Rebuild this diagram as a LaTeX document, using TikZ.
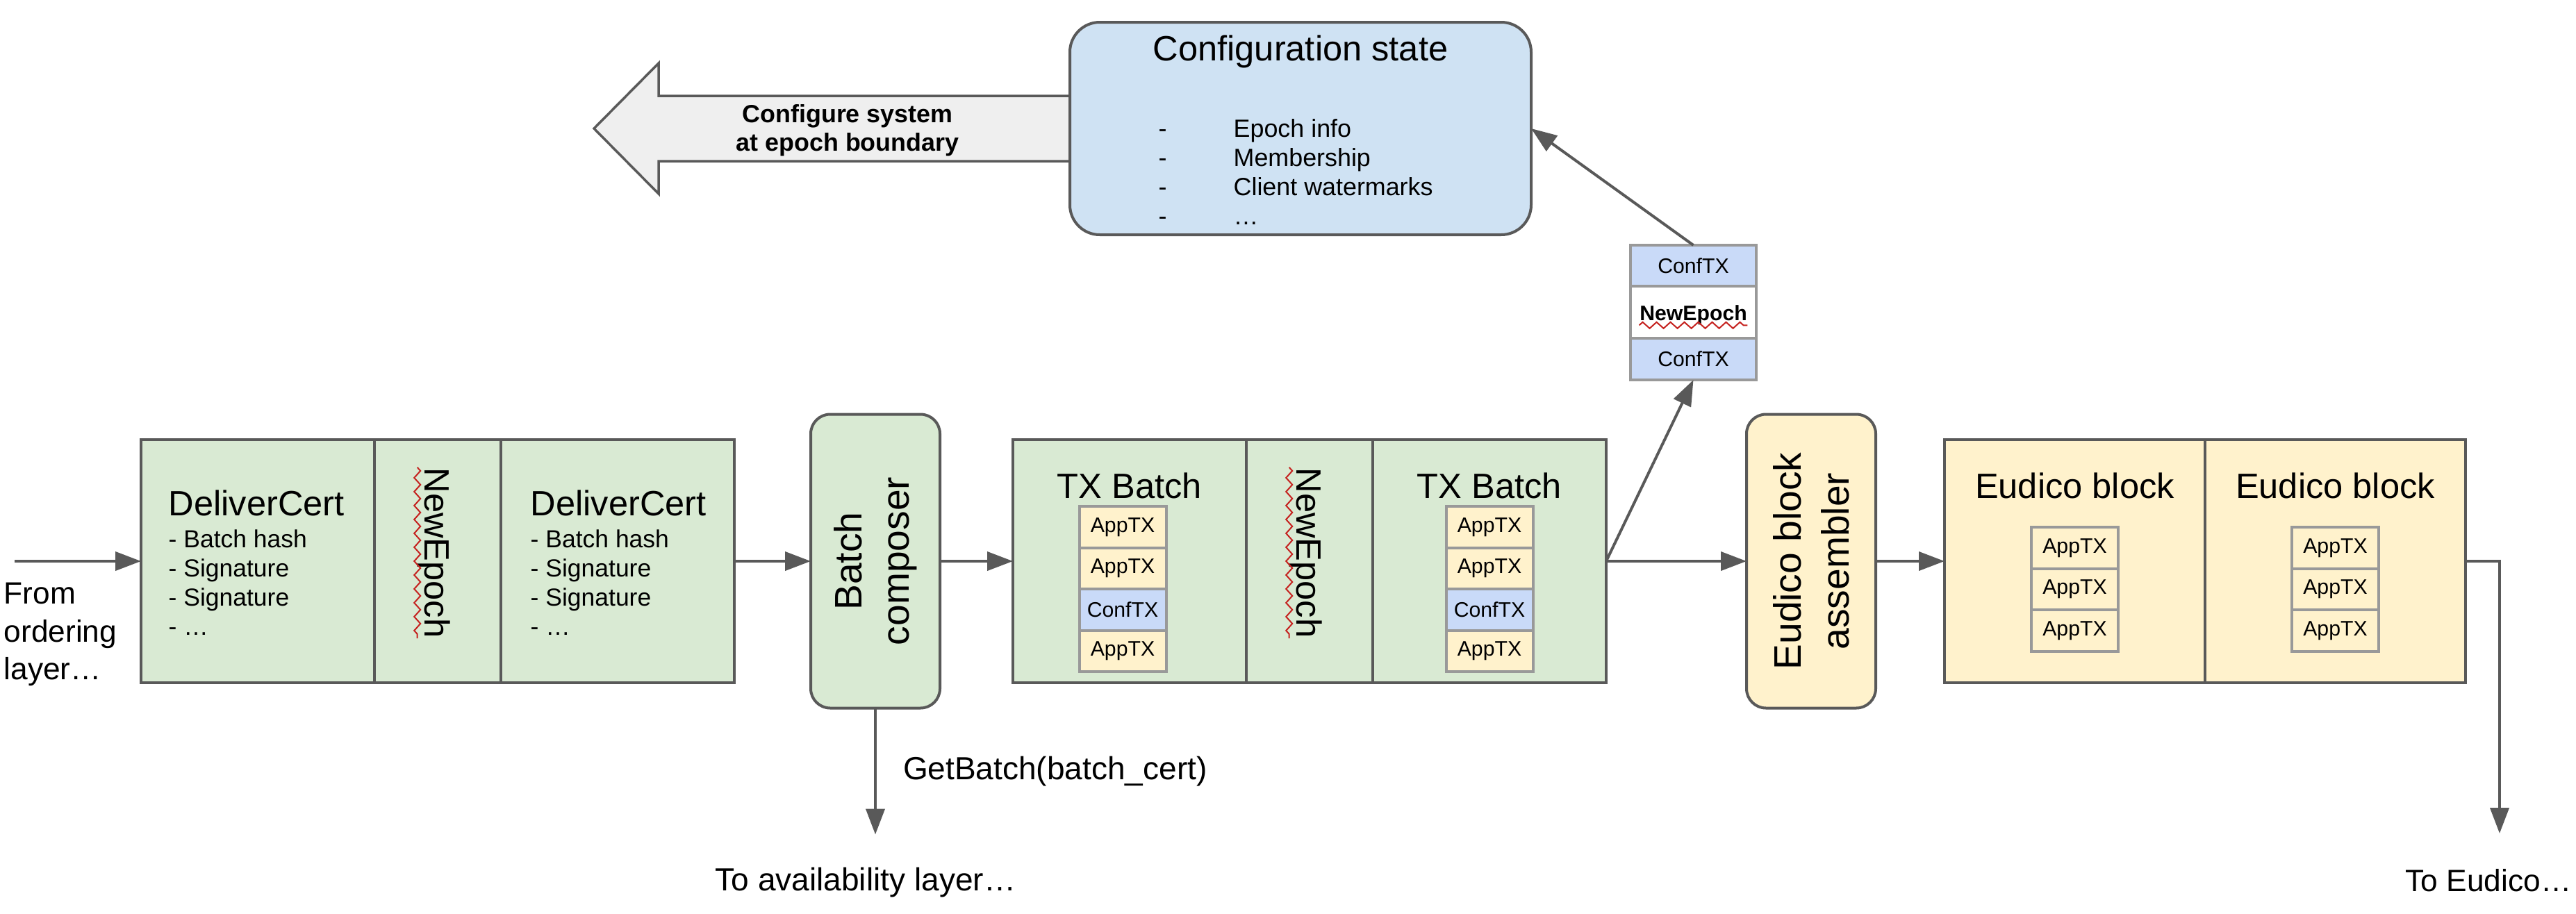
\documentclass[tikz,border=0pt]{standalone}
\usepackage{fontspec}
\setmainfont{Liberation Sans}
\usetikzlibrary{positioning,arrows.meta,decorations.pathmorphing,backgrounds}

\definecolor{edgegray}{HTML}{595959}
\definecolor{cellgray}{HTML}{999999}
\definecolor{batchgreen}{HTML}{D9EAD3}
\definecolor{blockyellow}{HTML}{FFF2CC}
\definecolor{confblue}{HTML}{C9DAF8}
\definecolor{stateblue}{HTML}{CFE2F3}
\definecolor{arrowgray}{HTML}{EFEFEF}
\definecolor{spellred}{HTML}{C5221F}

\tikzset{
	box/.style={draw=edgegray, line width=0.4mm, outer sep=0pt, inner sep=0pt},
	cert/.style={box, fill=batchgreen, minimum width=3.36cm, minimum height=3.5cm},
	epoch/.style={cert, minimum width=1.82cm},
	eblock/.style={box, fill=blockyellow, minimum width=3.75cm, minimum height=3.5cm},
	stage/.style={box, rounded corners=2.8mm, minimum width=1.86cm, minimum height=4.23cm},
	statebox/.style={box, fill=stateblue, rounded corners=4.3mm, minimum width=6.64cm, minimum height=3.06cm},
	tx/.style={draw=cellgray, line width=0.4mm, outer sep=0pt, inner sep=0pt, minimum width=1.25cm, minimum height=0.595cm, font=\fontsize{8.6}{10}\selectfont},
	app/.style={tx, fill=blockyellow},
	conf/.style={tx, fill=confblue},
	head/.style={inner sep=0pt, font=\fontsize{14.4}{17}\selectfont},
	items/.style={inner sep=0pt, align=left, font=\fontsize{10.1}{11.95}\selectfont},
	vlabel/.style={inner sep=0pt, align=center, rotate=90, font=\fontsize{15.7}{19.5}\selectfont},
	side/.style={inner sep=0pt, font=\fontsize{12.6}{15.6}\selectfont},
	flow/.style={draw=edgegray, line width=0.4mm, -{Triangle[length=3.7mm,width=2.7mm]}},
	bigarrow/.style={draw=edgegray, line width=0.35mm, fill=arrowgray},
	spell/.style={draw=spellred, line width=0.2mm, decorate, decoration={zigzag, amplitude=0.45mm, segment length=2mm}},
}

\begin{document}
\begin{tikzpicture}
	\useasboundingbox (0,0) rectangle (37.08,-13.16);

	% main pipeline
	\node[cert] (dc1) at (3.71,-8.08) {};
	\node[epoch, right=0pt of dc1] (ne1) {};
	\node[cert, right=0pt of ne1] (dc2) {};
	\node[stage, fill=batchgreen, right=1.1cm of dc2] (bc) {};
	\node[cert, right=1.05cm of bc] (tx1) {};
	\node[epoch, right=0pt of tx1] (ne2) {};
	\node[cert, right=0pt of ne2] (tx2) {};
	\node[stage, fill=blockyellow, right=2.02cm of tx2] (ea) {};
	\node[eblock, right=0.99cm of ea] (eb1) {};
	\node[eblock, right=0pt of eb1] (eb2) {};

	% certificates
	\node[head, anchor=base west] (dc1t) at ([xshift=3.9mm, yshift=-10.9mm]dc1.north west) {DeliverCert};
	\node[items, anchor=north west] (dc1l) at ([xshift=3.9mm, yshift=-12.9mm]dc1.north west) {- Batch hash\\- Signature\\- Signature\\- …};
	\node[head, anchor=base west] (dc2t) at ([xshift=4.2mm, yshift=-10.9mm]dc2.north west) {DeliverCert};
	\node[items, anchor=north west] (dc2l) at ([xshift=4.2mm, yshift=-12.9mm]dc2.north west) {- Batch hash\\- Signature\\- Signature\\- …};
	\node[head, rotate=-90] (ne1t) at ([xshift=-0.5mm, yshift=1.2mm]ne1.center) {NewEpoch};
	\node[head, rotate=-90] (ne2t) at ([xshift=-0.5mm, yshift=1.2mm]ne2.center) {NewEpoch};
	\draw[spell] (ne1t.south west) -- (ne1t.south east);
	\draw[spell] (ne2t.south west) -- (ne2t.south east);
	\node[vlabel] (bct) at (bc.center) {Batch\\composer};
	\node[vlabel] (eat) at (ea.center) {Eudico block\\assembler};

	% TX batches
	\node[head, anchor=base] (tx1t) at ([yshift=-8.4mm]tx1.north) {TX Batch};
	\node[app, anchor=north] (tx1a) at ([xshift=-1mm, yshift=-9.6mm]tx1.north) {AppTX};
	\node[app, below=0pt of tx1a] (tx1b) {AppTX};
	\node[conf, below=0pt of tx1b] (tx1c) {ConfTX};
	\node[app, below=0pt of tx1c] (tx1d) {AppTX};
	\node[head, anchor=base] (tx2t) at ([yshift=-8.4mm]tx2.north) {TX Batch};
	\node[app, anchor=north] (tx2a) at ([yshift=-9.6mm]tx2.north) {AppTX};
	\node[app, below=0pt of tx2a] (tx2b) {AppTX};
	\node[conf, below=0pt of tx2b] (tx2c) {ConfTX};
	\node[app, below=0pt of tx2c] (tx2d) {AppTX};

	% Eudico blocks
	\node[head, anchor=base] (eb1t) at ([yshift=-8.4mm]eb1.north) {Eudico block};
	\node[app, anchor=north] (eb1a) at ([yshift=-12.6mm]eb1.north) {AppTX};
	\node[app, below=0pt of eb1a] (eb1b) {AppTX};
	\node[app, below=0pt of eb1b] (eb1c) {AppTX};
	\node[head, anchor=base] (eb2t) at ([yshift=-8.4mm]eb2.north) {Eudico block};
	\node[app, anchor=north] (eb2a) at ([yshift=-12.6mm]eb2.north) {AppTX};
	\node[app, below=0pt of eb2a] (eb2b) {AppTX};
	\node[app, below=0pt of eb2b] (eb2c) {AppTX};

	% configuration state
	\node[statebox] (conf) at (18.72,-1.85) {};
	\node[head, anchor=base] (conft) at ([yshift=-5.5mm]conf.north) {Configuration state};
	\node[items, font=\fontsize{10.2}{11.95}\selectfont, anchor=north west] (confl) at ([xshift=12.7mm, yshift=-13.9mm]conf.north west)
		{\makebox[10.8mm][l]{-}Epoch info\\\makebox[10.8mm][l]{-}Membership\\\makebox[10.8mm][l]{-}Client watermarks\\\makebox[10.8mm][l]{-}…};
	\begin{scope}[on background layer]
		\draw[bigarrow] ([yshift=4.7mm]conf.west) -- ++(-5.92,0) -- ++(0,0.47) -- ++(-0.93,-0.94) -- ++(0.93,-0.94) -- ++(0,0.47) -- ++(5.92,0);
	\end{scope}
	\node[inner sep=0pt, align=center, font=\bfseries\fontsize{10.2}{11.7}\selectfont] (cfgt) at ([xshift=-32mm, yshift=-0.3mm]conf.west) {Configure system\\at epoch boundary};

	% extracted config transactions
	\node[conf, minimum width=1.81cm, minimum height=0.59cm, anchor=north] (ct1) at (24.375,-3.53) {ConfTX};
	\node[tx, fill=white, minimum width=1.81cm, minimum height=0.75cm, below=0pt of ct1] (ct2) {};
	\node[conf, minimum width=1.81cm, minimum height=0.6cm, below=0pt of ct2] (ct3) {ConfTX};
	\node[inner sep=0pt, font=\bfseries\fontsize{8.6}{10}\selectfont] (ct2t) at ([yshift=-0.4mm]ct2.center) {NewEpoch};
	\draw[spell] (ct2t.south west) -- (ct2t.south east);

	% connectors
	\coordinate (src) at (0.21,-8.08);
	\coordinate[below=1.82cm of bc] (avail);
	\coordinate (sink) at (35.98,-12.0);
	\node[side, anchor=north west, align=left] (from) at (0.05,-8.38) {From\\ordering\\layer…};
	\node[side, font=\fontsize{13.1}{15.6}\selectfont, anchor=base west] (availt) at ([xshift=-2.31cm, yshift=-0.81cm]avail) {To availability layer…};
	\node[side, anchor=base west] (sinkt) at ([xshift=-1.36cm, yshift=-0.83cm]sink) {To Eudico…};

	\draw[flow] (src) -- (dc1.west);
	\draw[flow] (dc2.east) -- (bc.west);
	\draw[flow] (bc.east) -- (tx1.west);
	\draw[flow] (tx2.east) -- (ea.west);
	\draw[flow] (ea.east) -- (eb1.west);
	\draw[flow] (tx2.east) -- (ct3.south);
	\draw[flow] (ct1.north) -- (conf.east);
	\draw[flow] (bc.south) -- node[side, font=\fontsize{13.1}{15.6}\selectfont, anchor=west, xshift=3.8mm] (getb) {GetBatch(batch\_cert)} (avail);
	\draw[flow] (eb2.east) -| (sink);
\end{tikzpicture}
\end{document}
